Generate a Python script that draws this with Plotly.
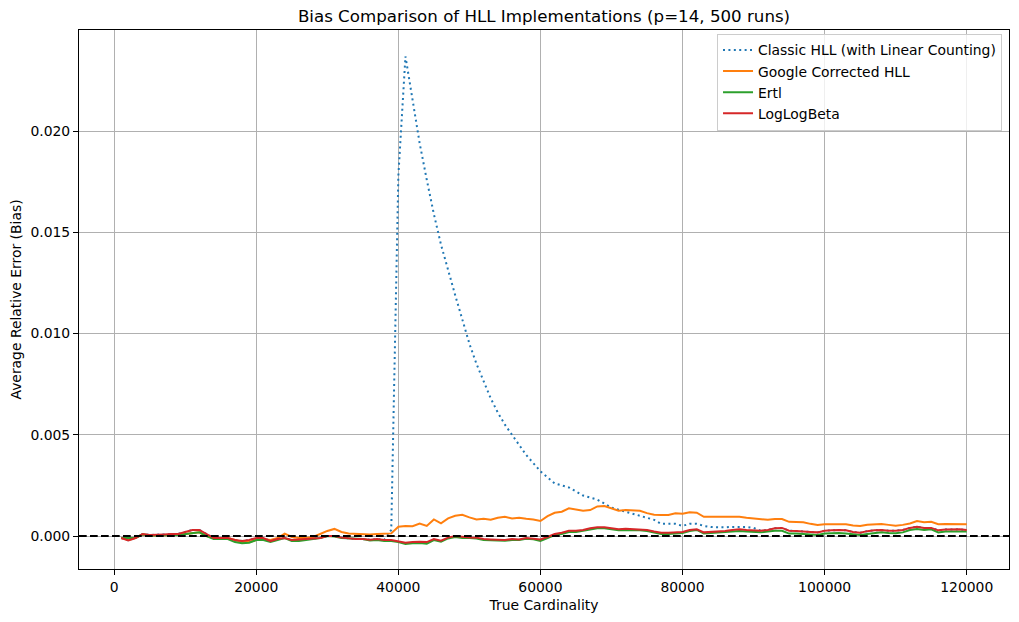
import plotly.graph_objects as go

# True cardinality: 1000 .. 120000 step 1000
cardinality = [1000 * k for k in range(1, 121)]

loglogbeta = [
    -0.0001, -0.00022, -0.0001, 0.0001, 0.00005, 0.00005, 0.00008, 0.0001, 0.0001, 0.0002,
    0.0003, 0.0003, 0.0001, -0.0001, -0.0001, -0.0001, -0.0002, -0.00025, -0.0002, -0.0001,
    -0.0001, -0.00025, -0.00015, -0.0001, -0.0002, -0.00018, -0.00015, -0.00012, -0.0001, 0.0,
    0.0, -0.00008, -0.00012, -0.00015, -0.00015, -0.00018, -0.00015, -0.0002, -0.0002, -0.00025,
    -0.00033, -0.0003, -0.00028, -0.0003, -0.00015, -0.00023, -0.00008, 0.0, -0.00005, -0.00007,
    -0.00008, -0.00015, -0.00017, -0.00018, -0.0002, -0.00015, -0.00017, -0.0001, -0.00012, -0.00017,
    -0.00005, 0.0001, 0.00016, 0.00026, 0.00026, 0.0003, 0.00038, 0.00043, 0.00043, 0.00038,
    0.00034, 0.00036, 0.00035, 0.00033, 0.0003, 0.00022, 0.00016, 0.00016, 0.00018, 0.0002,
    0.0003, 0.00033, 0.00018, 0.0002, 0.00022, 0.00025, 0.0003, 0.00033, 0.0003, 0.00028,
    0.00026, 0.0003, 0.00038, 0.0004, 0.00026, 0.00025, 0.00024, 0.0002, 0.00018, 0.00026,
    0.00028, 0.0003, 0.00028, 0.0002, 0.00016, 0.00024, 0.00028, 0.0003, 0.00026, 0.00026,
    0.0003, 0.0004, 0.00046, 0.0004, 0.0004, 0.00028, 0.00032, 0.00033, 0.00033, 0.0003,
]

ertl = [
    -0.0001, -0.0001, -0.0001, 0.00008, 0.00003, 0.00003, 0.00005, 0.00005, 0.00005, 0.0001,
    0.00015, 0.00018, 0.0, -0.00015, -0.00015, -0.00015, -0.0003, -0.00036, -0.00033, -0.0002,
    -0.0002, -0.0003, -0.0002, -0.0001, -0.00025, -0.00025, -0.0002, -0.00015, -0.0001, 0.0,
    -0.00002, -0.0001, -0.00012, -0.00015, -0.00015, -0.00022, -0.0002, -0.00025, -0.00025, -0.0003,
    -0.0004, -0.00036, -0.00035, -0.00038, -0.0002, -0.00028, -0.00012, -0.00005, -0.0001, -0.0001,
    -0.00012, -0.0002, -0.0002, -0.00022, -0.00024, -0.0002, -0.0002, -0.00014, -0.00016, -0.00025,
    -0.0001, 0.00005, 0.0001, 0.0002, 0.0002, 0.00025, 0.00033, 0.00038, 0.00038, 0.00033,
    0.00028, 0.0003, 0.0003, 0.00028, 0.00025, 0.00016, 0.0001, 0.0001, 0.00012, 0.00015,
    0.00025, 0.0003, 0.00012, 0.00015, 0.00018, 0.0002, 0.00025, 0.00025, 0.00022, 0.0002,
    0.00018, 0.00022, 0.00026, 0.00026, 0.00012, 0.00012, 0.0001, 0.00008, 0.00005, 0.00012,
    0.00014, 0.00015, 0.00012, 0.00008, 0.00005, 0.0001, 0.00015, 0.00018, 0.00015, 0.00014,
    0.00018, 0.0003, 0.00035, 0.0003, 0.00033, 0.00018, 0.00022, 0.00022, 0.00022, 0.00022,
]

google = [
    -0.0001, -0.0002, -0.0001, 0.00008, 0.00003, 0.00003, 0.00005, 0.00005, 0.00005, 0.0001,
    0.00015, 0.00018, 0.0, -0.0001, -0.0001, -0.0001, -0.0002, -0.0003, -0.0003, -0.0002,
    -0.00015, -0.0002, -0.0001, 0.00012, -0.00005, -0.0001, -0.0001, -0.00005, 0.0001, 0.00025,
    0.00035, 0.0002, 0.00012, 0.0001, 0.0001, 0.00008, 0.0001, 0.0001, 0.00013, 0.00046,
    0.0005, 0.00048, 0.00062, 0.0005, 0.00082, 0.00063, 0.00087, 0.001, 0.00105, 0.00092,
    0.00082, 0.00085, 0.0008, 0.0009, 0.00095, 0.00087, 0.0009, 0.00085, 0.00082, 0.00074,
    0.00098, 0.00115, 0.0012, 0.00137, 0.00132, 0.00125, 0.00128, 0.00146, 0.00148, 0.00138,
    0.00125, 0.00128, 0.00125, 0.00125, 0.00113, 0.00105, 0.00104, 0.00104, 0.00112, 0.0011,
    0.00117, 0.00115, 0.00095, 0.00095, 0.00093, 0.00092, 0.00095, 0.00095, 0.0009, 0.00087,
    0.00082, 0.0008, 0.00084, 0.00084, 0.0007, 0.0007, 0.00068, 0.0006, 0.00054, 0.00058,
    0.00059, 0.00059, 0.00058, 0.00052, 0.00049, 0.00056, 0.00058, 0.00059, 0.00055, 0.00051,
    0.00055, 0.00062, 0.00074, 0.00068, 0.0007, 0.00058, 0.00059, 0.00059, 0.00059, 0.00058,
]

classic = [
    -0.0001, -0.00022, -0.0001, 0.0001, 0.00005, 0.00005, 0.00008, 0.0001, 0.0001, 0.0002,
    0.0003, 0.0003, 0.0001, -0.0001, -0.0001, -0.0001, -0.0002, -0.00025, -0.0002, -0.0001,
    -0.0001, -0.00025, -0.00015, -0.0001, -0.0002, -0.00018, -0.00015, -0.00012, -0.0001, 0.0,
    0.0, -0.00008, -0.00012, -0.00015, -0.00015, -0.00018, -0.00015, -0.0002, 0.0003, 0.0178,
    0.0237, 0.0215, 0.0194, 0.0176, 0.0159, 0.0144, 0.0131, 0.0119, 0.0107, 0.0095,
    0.0085, 0.0076, 0.0068, 0.0061, 0.0055, 0.0050, 0.0045, 0.0040, 0.0036, 0.0032,
    0.0029, 0.0026, 0.0025, 0.0024, 0.0022, 0.0020, 0.0019, 0.0018, 0.0016, 0.0014,
    0.0013, 0.0012, 0.0011, 0.0010, 0.0009, 0.0008, 0.0006, 0.0006, 0.0006, 0.0005,
    0.0006, 0.0006, 0.0005, 0.00044, 0.00043, 0.00043, 0.00045, 0.00046, 0.00045, 0.0004,
    0.00026, 0.0003, 0.00038, 0.0004, 0.00026, 0.00025, 0.00024, 0.0002, 0.00018, 0.00026,
    0.00028, 0.0003, 0.00028, 0.0002, 0.00016, 0.00024, 0.00028, 0.0003, 0.00026, 0.00026,
    0.0003, 0.0004, 0.00046, 0.0004, 0.0004, 0.00028, 0.00032, 0.00033, 0.00033, 0.0003,
]

x_ticks = [0, 20000, 40000, 60000, 80000, 100000, 120000]
y_ticks = [0.0, 0.005, 0.010, 0.015, 0.020]

FONT = "DejaVu Sans"
LW = 2.0
FS = 13.9

fig = go.Figure()
fig.add_trace(go.Scatter(x=cardinality, y=classic, mode="lines",
                         name="Classic HLL (with Linear Counting)",
                         line=dict(color="#1f77b4", width=LW, dash="2px,3.4px")))
fig.add_trace(go.Scatter(x=cardinality, y=google, mode="lines",
                         name="Google Corrected HLL",
                         line=dict(color="#ff7f0e", width=LW)))
fig.add_trace(go.Scatter(x=cardinality, y=ertl, mode="lines",
                         name="Ertl",
                         line=dict(color="#2ca02c", width=LW)))
fig.add_trace(go.Scatter(x=cardinality, y=loglogbeta, mode="lines",
                         name="LogLogBeta",
                         line=dict(color="#d62728", width=LW)))

fig.add_shape(type="line", xref="paper", x0=0, x1=1, yref="y", y0=0, y1=0,
              line=dict(color="black", width=2, dash="7.7px,3.3px"))

axis_common = dict(
    showgrid=True, gridcolor="#b0b0b0", gridwidth=1,
    showline=True, linecolor="black", linewidth=1, mirror=True,
    ticks="outside", ticklen=5, tickwidth=1, tickcolor="black",
    zeroline=False, automargin=False,
    tickfont=dict(family=FONT, size=FS, color="black"),
)

W, H = 1011, 614

fig.update_layout(
    width=W, height=H,
    paper_bgcolor="white", plot_bgcolor="white",
    margin=dict(l=71, r=10, t=22, b=53, pad=0),
    title=dict(text="Bias Comparison of HLL Implementations (p=14, 500 runs)",
               x=0.5, xref="paper", xanchor="center", y=1 - 8.5 / H, yanchor="middle",
               font=dict(family=FONT, size=16.67, color="black")),
    font=dict(family=FONT, size=FS, color="black"),
    xaxis=dict(range=[-4950, 125950], tickvals=x_ticks,
               ticktext=[str(v) for v in x_ticks],
               title=dict(text="True Cardinality", font=dict(family=FONT, size=FS), standoff=6),
               **axis_common),
    yaxis=dict(range=[-0.00163, 0.0250], tickvals=y_ticks,
               ticktext=[f"{v:.3f}" for v in y_ticks],
               title=dict(text="Average Relative Error (Bias)", font=dict(family=FONT, size=FS), standoff=8),
               **axis_common),
    legend=dict(x=0.9925, xanchor="right", y=0.9935, yanchor="top",
                bgcolor="rgba(255,255,255,0.8)", bordercolor="#cccccc", borderwidth=1,
                font=dict(family=FONT, size=FS, color="black"), tracegroupgap=0),
    showlegend=True,
)

fig.write_html("out.html")
